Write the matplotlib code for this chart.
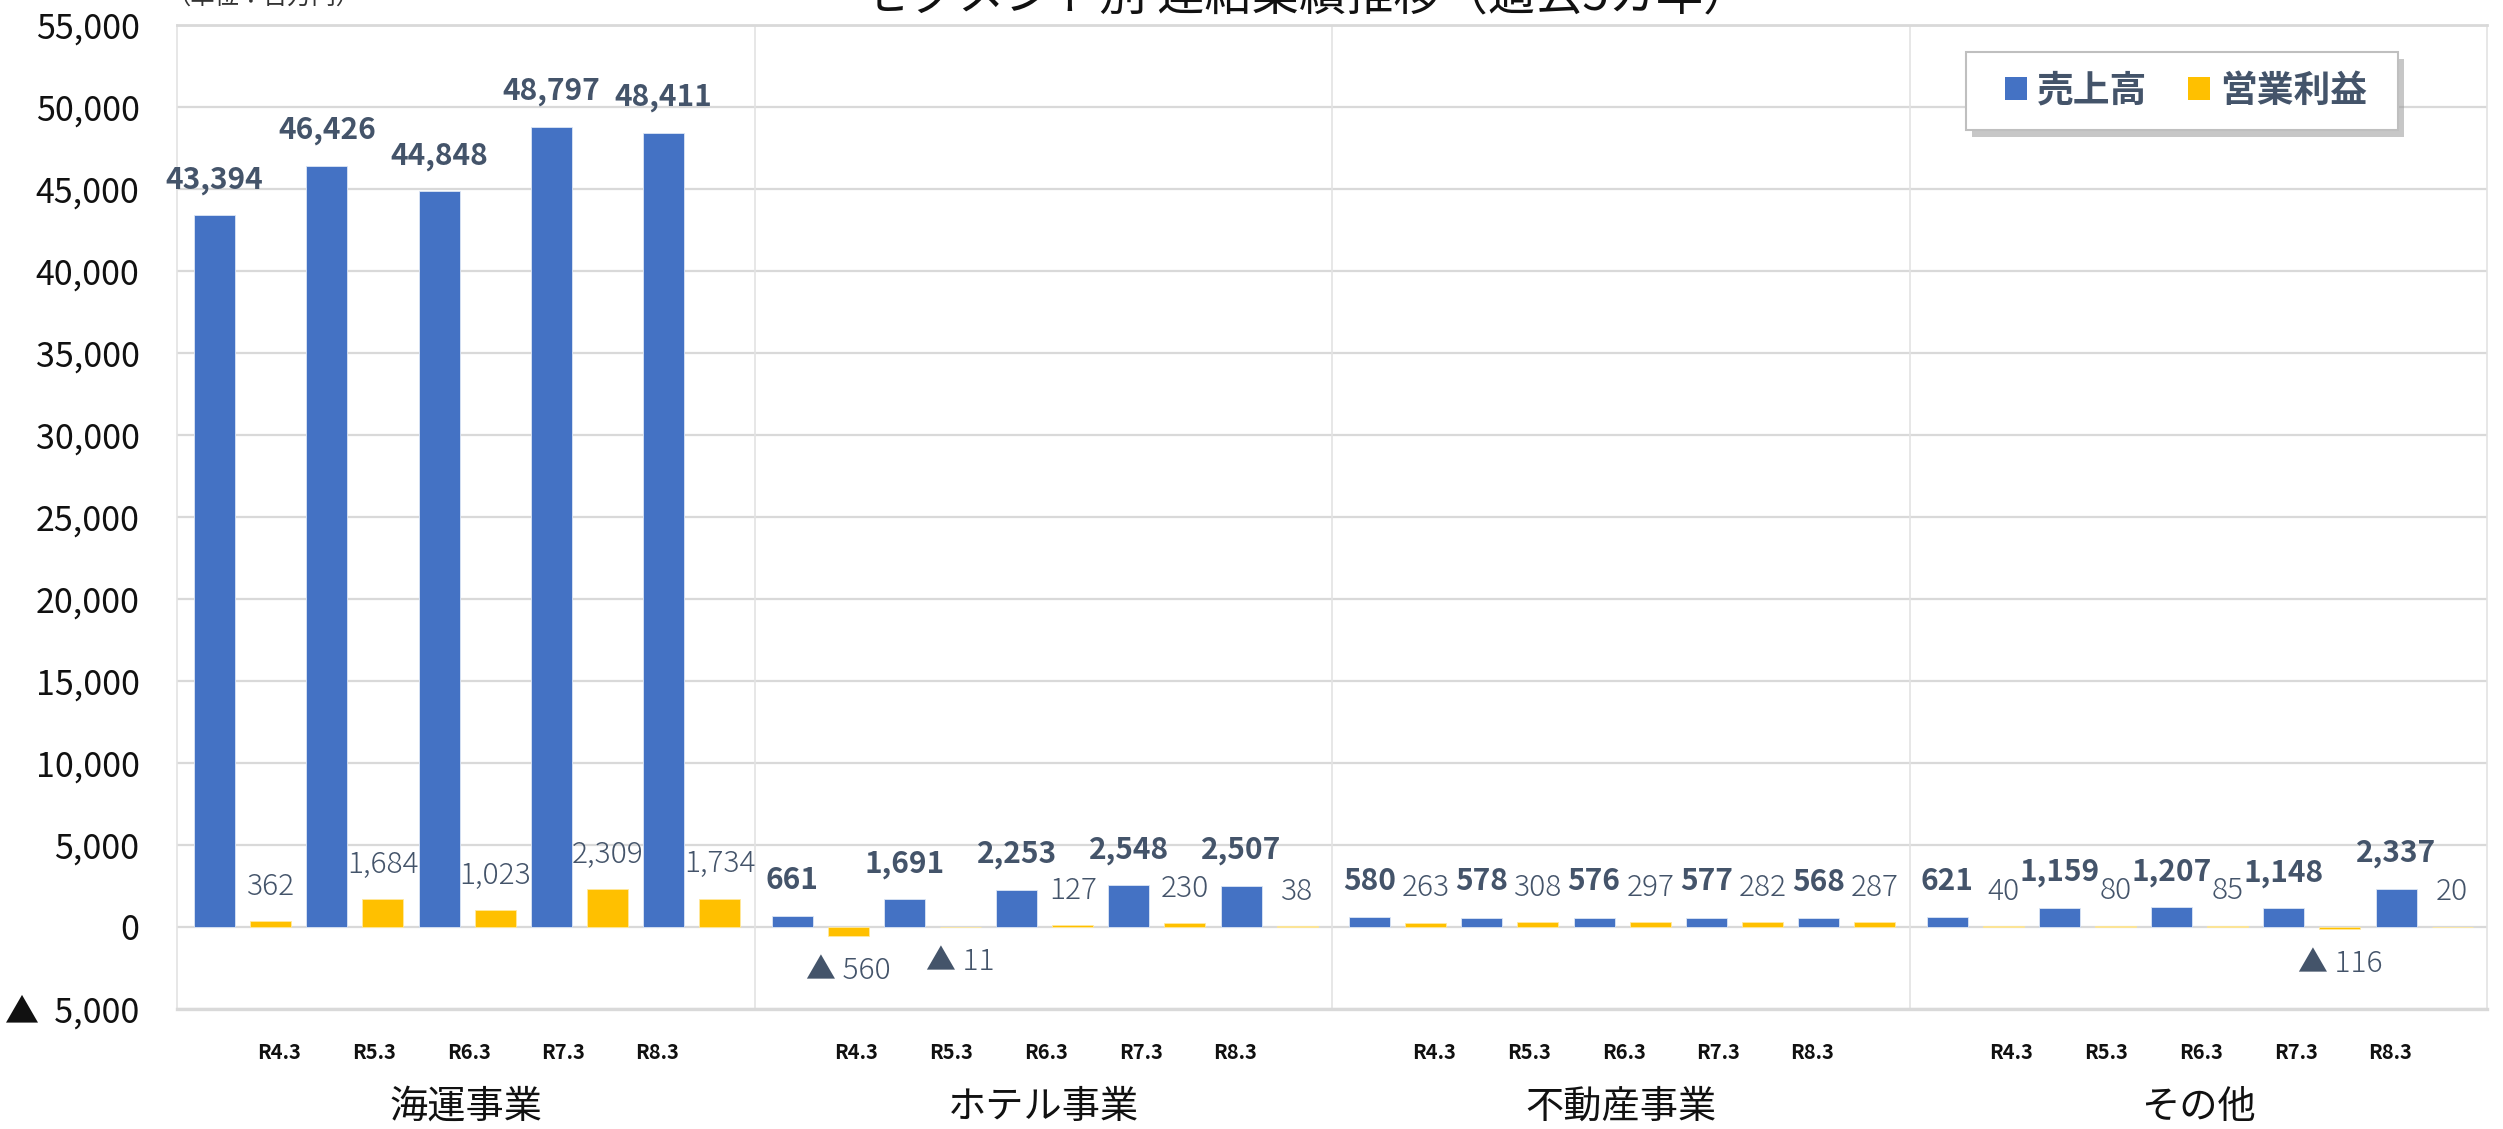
import matplotlib
matplotlib.use("Agg")
import matplotlib.pyplot as plt
from matplotlib.patches import Patch, Rectangle
import numpy as np

plt.rcParams['font.family'] = ['Noto Sans CJK JP', 'DejaVu Sans']

# データ（単位：百万円）
segments = ['海運事業', 'ホテル事業', '不動産事業', 'その他']
years = ['R4.3', 'R5.3', 'R6.3', 'R7.3', 'R8.3']
sales_kaiun = [43394, 46426, 44848, 48797, 48411]
sales_hotel = [661, 1691, 2253, 2548, 2507]
sales_fudosan = [580, 578, 576, 577, 568]
sales_other = [621, 1159, 1207, 1148, 2337]
profit_kaiun = [362, 1684, 1023, 2309, 1734]
profit_hotel = [-560, -11, 127, 230, 38]
profit_fudosan = [263, 308, 297, 282, 287]
profit_other = [40, 80, 85, -116, 20]

sales = [sales_kaiun, sales_hotel, sales_fudosan, sales_other]
profit = [profit_kaiun, profit_hotel, profit_fudosan, profit_other]

BLUE = '#4472C4'
YELLOW = '#FFC000'
LABEL = '#44546A'
GRID = '#D9D9D9'
W, H = 2503, 1129


def fmt(v, sep=' '):
    if v < 0:
        return '▲' + sep + '{:,}'.format(-v)
    return '{:,}'.format(v)


fig = plt.figure(figsize=(W / 100, H / 100), dpi=100)
ax = fig.add_axes([177 / W, 1 - 1009 / H, 2310 / W, 984 / H])

bw = 0.71
step = 0.972
tick_off = [1.76, 3.41, 5.05, 6.69, 8.32]
tick_pos, tick_lab = [], []
for g in range(len(segments)):
    xb = np.array([10 * g + 0.65 + step * 2 * k for k in range(len(years))])
    xy = xb + step
    ax.bar(xb, sales[g], width=bw, color=BLUE, edgecolor='#DCE6F5', linewidth=0.6, zorder=3)
    ax.bar(xy, profit[g], width=bw, color=YELLOW, edgecolor='#FFE9A0', linewidth=0.6, zorder=3)
    for x, v in zip(xb, sales[g]):
        ax.annotate(fmt(v), (x, v), xytext=(0, 19.5), textcoords='offset points',
                    ha='center', va='baseline', fontsize=21.5, fontweight='bold', color=LABEL, zorder=5)
    for x, v in zip(xy, profit[g]):
        if v >= 0:
            ax.annotate(fmt(v), (x, v), xytext=(0, 19), textcoords='offset points',
                        ha='center', va='baseline', fontsize=21.5, fontweight='light', color=LABEL, zorder=5)
        else:
            ax.annotate(fmt(v), (x, v), xytext=(0, -31), textcoords='offset points',
                        ha='center', va='baseline', fontsize=21.5, fontweight='light', color=LABEL, zorder=5)
    for k, y in enumerate(years):
        tick_pos.append(10 * g + tick_off[k])
        tick_lab.append(y)
    ax.text(10 * g + 5, -0.0996, segments[g], transform=ax.get_xaxis_transform(),
            ha='center', va='center', fontsize=27.5, color='#111111')
    if g > 0:
        ax.axvline(10 * g, color='#E3E3E3', lw=1.2, zorder=1)

ax.set_xlim(0, 40)
ax.set_ylim(-5000, 55000)
yt = list(range(-5000, 55001, 5000))
ax.set_yticks(yt)
ax.set_yticklabels([fmt(v, sep='  ') for v in yt], fontsize=24.5, color='#111111')
ax.set_xticks(tick_pos)
ax.set_xticklabels(tick_lab, fontsize=14.5, fontweight='bold', color='#111111')
ax.tick_params(axis='y', length=0, pad=27)
ax.tick_params(axis='x', length=0, pad=24)

ax.grid(axis='y', color=GRID, lw=1.6, zorder=0)
ax.set_axisbelow(True)
for s in ['left', 'right']:
    ax.spines[s].set_color('#E3E3E3')
    ax.spines[s].set_linewidth(1.2)
ax.spines['top'].set_color(GRID)
ax.spines['top'].set_linewidth(2)
ax.spines['bottom'].set_color(GRID)
ax.spines['bottom'].set_linewidth(2.4)

# 凡例の枠（影付き）
bx0, by0, bx1, by1 = 1966, 52, 2398, 130
fig.patches.append(Rectangle(((bx0 + 6) / W, 1 - (by1 + 7) / H), (bx1 - bx0) / W, (by1 - by0) / H,
                             transform=fig.transFigure, facecolor='#9A9A9A', alpha=0.55,
                             edgecolor='none', zorder=8))
fig.patches.append(Rectangle((bx0 / W, 1 - by1 / H), (bx1 - bx0) / W, (by1 - by0) / H,
                             transform=fig.transFigure, facecolor='white',
                             edgecolor='#BFBFBF', linewidth=1.5, zorder=9))

handles = [Patch(facecolor=BLUE, label='売上高'), Patch(facecolor=YELLOW, label='営業利益')]
leg = fig.legend(handles=handles, loc='center left', bbox_to_anchor=(2005 / W, 1 - 91 / H),
                 ncol=2, fontsize=26.5, frameon=False,
                 handlelength=0.6, handleheight=0.6,
                 handletextpad=0.28, columnspacing=1.1, borderpad=0, borderaxespad=0)
leg.set_zorder(10)
for t in leg.get_texts():
    t.set_fontweight('bold')
    t.set_color(LABEL)

fig.text(0.522, 1 - 9 / H, 'セグメント別 連結業績推移（過去5カ年）', ha='center', va='baseline',
         fontsize=34, color='#111111')
fig.text(166 / W, 1 - 5 / H, '（単位：百万円）', ha='left', va='baseline',
         fontsize=17.5, color='#333333')

fig.savefig('out.png', dpi=100)
